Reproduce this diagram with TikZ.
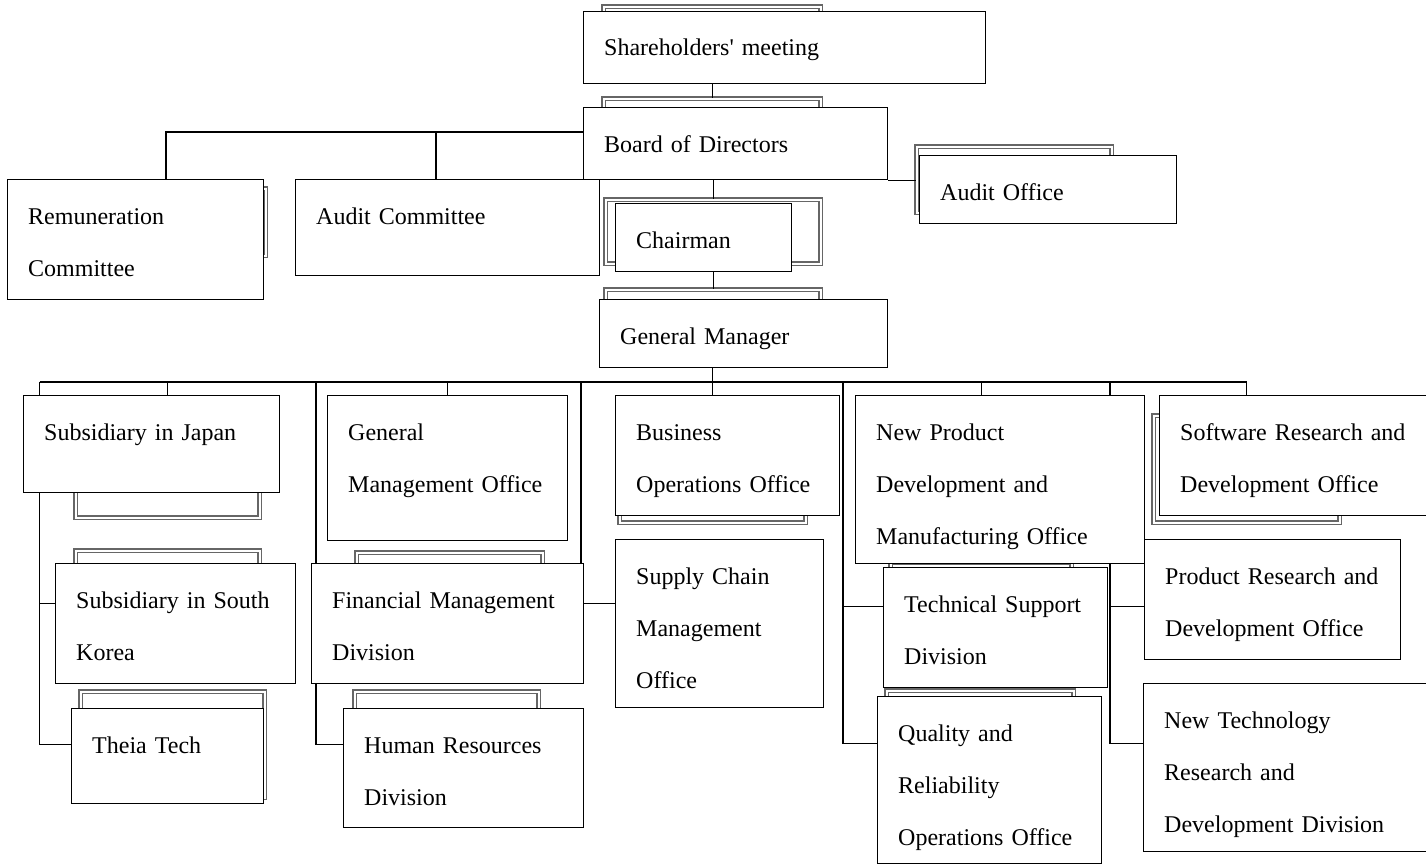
\documentclass[tikz,border=0pt]{standalone}
\usepackage{fontspec}
\setmainfont{Liberation Serif}
\usetikzlibrary{calc}
\tikzset{
  orgbox/.style={draw, fill=white, line width=1.2pt, anchor=north west, inner sep=0pt},
  orgtext/.style={anchor=base west, inner sep=0pt, text width=380pt, align=left,
    font=\fontsize{24}{52}\selectfont},
  orgframe/.style={draw=black!60, double=white, double distance=1.8pt,
    line width=1.4pt, anchor=north west, inner sep=0pt},
  link/.style={line width=1.2pt}
}
% 箱と文字
\newcommand\orgunit[6]{%
  \node[orgbox, minimum width=#4pt, minimum height=#5pt] (#1) at (#2,#3) {};
  \node[orgtext] (#1-t) at ([shift={(21pt,-45pt)}]#1.north west) {#6};
}
% 背後の灰色の枠
\newcommand\frameunit[5]{%
  \node[orgframe, minimum width=#4pt, minimum height=#5pt] (#1) at (#2,#3) {};
}
\begin{document}
\begin{tikzpicture}[x=1pt,y=-1pt]
    \useasboundingbox (0,0) rectangle (1426,864);

    % 灰色の枠
    \frameunit{shF}{603}{6}{217}{50}
    \frameunit{bdF}{603}{98}{217}{50}
    \frameunit{chF}{605}{199}{215}{64}
    \frameunit{gmF}{605}{289}{215}{50}
    \frameunit{aoF}{916}{146}{195}{66}
    \frameunit{rmF}{67}{188}{198}{67}
    \frameunit{jpF}{75}{420}{184}{97}
    \frameunit{krF}{75}{550}{184}{106}
    \frameunit{thF}{80}{691}{184}{106}
    \frameunit{fnF}{356}{552}{186}{90}
    \frameunit{hrF}{354}{691}{184}{106}
    \frameunit{buF}{619}{420}{186}{102}
    \frameunit{swF}{1153}{415}{186}{107}
    \frameunit{tsF}{890}{562}{181}{88}
    \frameunit{qrF}{886}{690}{187}{106}

    % 上層
    \orgunit{sh}{583}{11}{402}{72}{Shareholders\textquotesingle{} meeting}
    \orgunit{bd}{583}{107}{304}{72}{Board of Directors}
    \orgunit{rm}{7}{179}{256}{120}{Remuneration\\Committee}
    \orgunit{ac}{295}{179}{304}{96}{Audit Committee}
    \orgunit{ao}{919}{155}{257}{68}{Audit Office}
    \orgunit{ch}{615}{203}{176}{68}{Chairman}
    \orgunit{gm}{599}{299}{288}{68}{General Manager}

    % 部門
    \orgunit{jp}{23}{395}{256}{97}{Subsidiary in Japan}
    \orgunit{gmo}{327}{395}{240}{145}{General\\Management Office}
    \orgunit{bu}{615}{395}{224}{120}{Business\\Operations Office}
    \orgunit{np}{855}{395}{289}{168}{New Product\\Development and\\Manufacturing Office}
    \orgunit{sw}{1159}{395}{280}{120}{Software Research and\\Development Office}
    \orgunit{kr}{55}{563}{240}{120}{Subsidiary in South\\Korea}
    \orgunit{fn}{311}{563}{272}{120}{Financial Management\\Division}
    \orgunit{sc}{615}{539}{208}{168}{Supply Chain\\Management\\Office}
    \orgunit{ts}{883}{567}{224}{120}{Technical Support\\Division}
    \orgunit{pr}{1144}{539}{256}{120}{Product Research and\\Development Office}
    \orgunit{th}{71}{708}{192}{95}{Theia Tech}
    \orgunit{hr}{343}{708}{240}{119}{Human Resources\\Division}
    \orgunit{qr}{877}{696}{224}{167}{Quality and\\Reliability\\Operations Office}
    \orgunit{nt}{1143}{683}{290}{168}{New Technology\\Research and\\Development Division}

    % 取締役会まわり
    \coordinate (cmL) at (166,132);
    \coordinate (acT) at (436,132);
    \draw[link] (sh.south -| shF.north) -- (bdF.north);
    \draw[link] (bd.west |- cmL) -- (cmL) -- (cmL |- rm.north);
    \draw[link] (acT) -- (acT |- ac.north);
    \draw[link] (bd.south east) -- (aoF.west |- bd.south east);
    \draw[link] (bd.south -| chF.north) -- (chF.north);
    \draw[link] (ch.south -| gmF.north) -- (gmF.north);

    % 横の幹線
    \coordinate (busL) at (39.5,382);
    \coordinate (busM) at (316,382);
    \coordinate (fnT) at (581,382);
    \coordinate (busN) at (843,382);
    \coordinate (npR) at (1110,382);
    \draw[link] (gm.south -| buF.north) -- (bu.north -| buF.north);
    \draw[link] (busL) -- (busL -| swF.north);

    % 各部門へ
    \draw[link] (jpF.north |- busL) -- (jp.north -| jpF.north);
    \draw[link] (gmo.north |- busL) -- (gmo.north);
    \draw[link] (tsF.north |- busL) -- (np.north -| tsF.north);
    \draw[link] (npR) -- (npR |- np.north);
    \draw[link] (swF.north |- busL) -- (sw.north -| swF.north);
    \draw[link] (fnT) -- (fnT |- fn.north);

    % 左側
    \draw[link] (busL) -- (busL |- jp.north);
    \draw[link] (busL |- jp.south) -- (busL |- thF.west) -- (th.west |- thF.west);
    \draw[link] (busL |- krF.west) -- (kr.west |- krF.west);
    \draw[link] (busM) -- (busM |- fn.north);
    \draw[link] (busM |- fn.south) -- (busM |- hrF.west) -- (hr.west |- hrF.west);
    \draw[link] (fn.east |- krF.west) -- (sc.west |- krF.west);

    % 右側
    \draw[link] (busN) -- (busN |- qrF.west) -- (qr.west |- qrF.west);
    \draw[link] (busN |- tsF.west) -- (ts.west |- tsF.west);
    \draw[link] (np.south -| npR) -- (npR |- qrF.west) -- (nt.west |- qrF.west);
    \draw[link] (npR |- tsF.west) -- (pr.west |- tsF.west);
\end{tikzpicture}
\end{document}
